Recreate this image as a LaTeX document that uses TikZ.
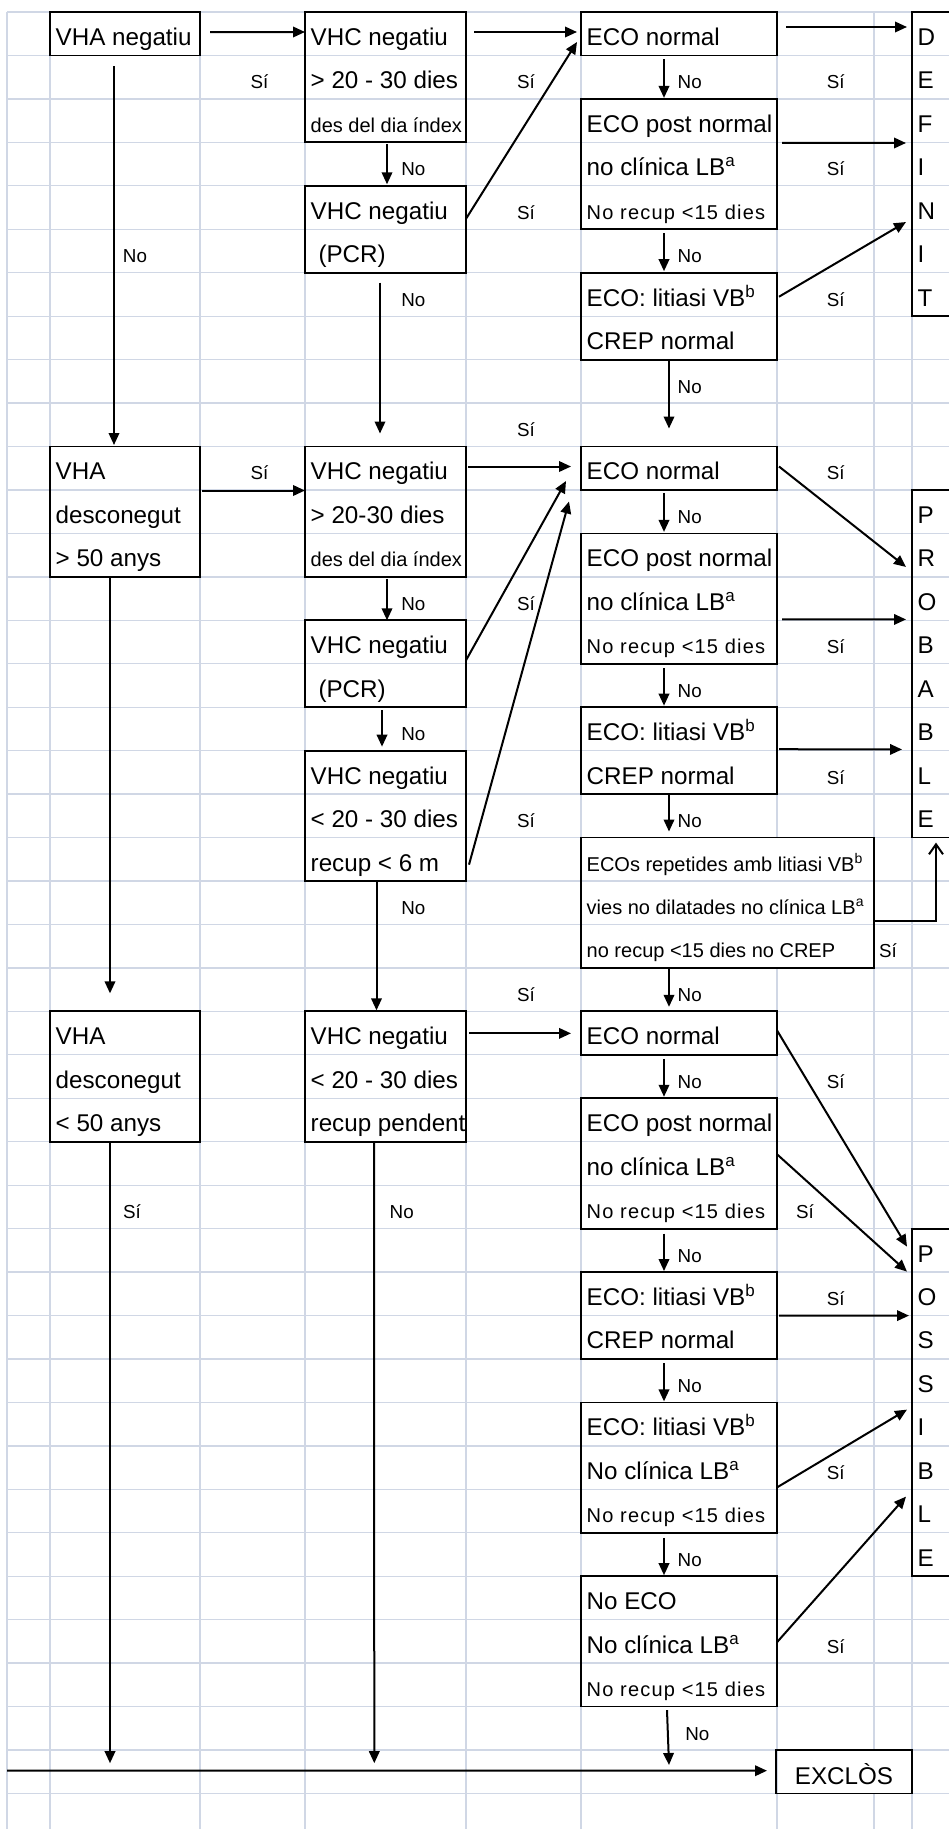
\documentclass[tikz,border=0pt]{standalone}
\usepackage{fontspec}
\setmainfont{Liberation Sans}
\newfontfamily\spacedfont[LetterSpace=6]{Liberation Sans}
\usetikzlibrary{arrows.meta,calc}
\definecolor{gridc}{HTML}{D0D7E5}
\newcommand\fontM{\fontsize{24.2}{28}\selectfont}
\newcommand\fontS{\fontsize{20}{24}\selectfont}
\newcommand\fontW{\spacedfont\fontsize{20}{24}\selectfont}
\newcommand\fontL{\fontsize{18.8}{22}\selectfont}
\tikzset{
  x=1pt, y=-1pt,
  gridline/.style={draw=gridc, line width=1.3pt},
  box/.style={draw=black, line width=1.8pt, inner sep=0pt, outer sep=0pt},
  arr/.style={line width=2pt, -{Triangle[length=12pt,width=10.5pt]}},
  openarr/.style={line width=2pt, -{Straight Barb[length=10pt,width=14pt]}},
  txt/.style={anchor=base west, inner sep=0pt, font=\fontM},
  lbl/.style={anchor=base, inner sep=0pt, font=\fontL}
}
\newcommand\cellbox[5]{\node[box, anchor=north west, minimum width={#3-#2}, minimum height={43.45*(#5-#4)}] (#1) at (#2,{12+43.45*(#4)}) {};}
\newcommand\txtA[4]{\node[txt] (#1) at (#2,{12+43.45*(#3+1)-10}) {#4};}
\newcommand\txtS[4]{\node[txt, font=\fontS] (#1) at (#2,{12+43.45*(#3+1)-10}) {#4};}
\newcommand\txtW[4]{\node[txt, font=\fontW] (#1) at (#2,{12+43.45*(#3+1)-10}) {#4};}
\newcommand\labl[4]{\node[lbl] (#1) at (#2,{12+43.45*(#3+1)-10}) {#4};}
\begin{document}
\begin{tikzpicture}
\useasboundingbox (0,0) rectangle (949,1829);
\fill[white] (0,0) rectangle (949,1829);
\clip (0,0) rectangle (949,1829);
% grid
\foreach \k in {0,...,41} \draw[gridline] (7,{12+43.45*\k}) -- (949,{12+43.45*\k});
\foreach \xx in {7,50,200,305,466,581,912} \draw[gridline] (\xx,12) -- (\xx,1829);
\draw[gridline] (777,12) -- (777,{12+43.45*19}) (777,{12+43.45*22}) -- (777,1829);
\draw[gridline] (874,12) -- (874,{12+43.45*40}) (874,{12+43.45*41}) -- (874,1829);
% boxes
\cellbox{vhaA}{50}{200}{0}{1}
\cellbox{vhcA}{305}{466}{0}{3}
\cellbox{vhcB}{305}{466}{4}{6}
\cellbox{ecoA}{581}{777}{0}{1}
\cellbox{ecopA}{581}{777}{2}{5}
\cellbox{ecolA}{581}{777}{6}{8}
\cellbox{def}{912}{1000}{0}{7}
\cellbox{vhaB}{50}{200}{10}{13}
\cellbox{vhcC}{305}{466}{10}{13}
\cellbox{vhcD}{305}{466}{14}{16}
\cellbox{vhcE}{305}{466}{17}{20}
\cellbox{ecoB}{581}{777}{10}{11}
\cellbox{ecopB}{581}{777}{12}{15}
\cellbox{ecolB}{581}{777}{16}{18}
\cellbox{ecos}{581}{874}{19}{22}
\cellbox{prob}{912}{1000}{11}{19}
\cellbox{vhaC}{50}{200}{23}{26}
\cellbox{vhcF}{305}{466}{23}{26}
\cellbox{ecoC}{581}{777}{23}{24}
\cellbox{ecopC}{581}{777}{25}{28}
\cellbox{ecolC}{581}{777}{29}{31}
\cellbox{ecolD}{581}{777}{32}{35}
\cellbox{noeco}{581}{777}{36}{39}
\cellbox{poss}{912}{1000}{28}{36}
\cellbox{excl}{776}{912}{40}{41}
% texts block 1
\txtA{t1}{55.5}{0}{VHA negatiu}
\txtA{t2}{310.5}{0}{VHC negatiu}
\txtA{t3}{310.5}{1}{> 20 - 30 dies}
\txtS{t4}{310.5}{2}{des del dia índex}
\txtA{t5}{310.5}{4}{VHC negatiu}
\txtA{t6}{318.3}{5}{(PCR)}
\txtA{t7}{586.5}{0}{ECO normal}
\txtA{t8}{586.5}{2}{ECO post normal}
\txtA{t9}{586.5}{3}{no clínica LB\textsuperscript{a}}
\txtW{t10}{586.5}{4}{No recup <15 dies}
\txtA{t11}{586.5}{6}{ECO: litiasi VB\textsuperscript{b}}
\txtA{t12}{586.5}{7}{CREP normal}
% block 2
\txtA{t13}{55.5}{10}{VHA}
\txtA{t14}{55.5}{11}{desconegut}
\txtA{t15}{55.5}{12}{> 50 anys}
\txtA{t16}{310.5}{10}{VHC negatiu}
\txtA{t17}{310.5}{11}{> 20-30 dies}
\txtS{t18}{310.5}{12}{des del dia índex}
\txtA{t19}{310.5}{14}{VHC negatiu}
\txtA{t20}{318.3}{15}{(PCR)}
\txtA{t21}{310.5}{17}{VHC negatiu}
\txtA{t22}{310.5}{18}{< 20 - 30 dies}
\txtA{t23}{310.5}{19}{recup < 6 m}
\txtA{t24}{586.5}{10}{ECO normal}
\txtA{t25}{586.5}{12}{ECO post normal}
\txtA{t26}{586.5}{13}{no clínica LB\textsuperscript{a}}
\txtW{t27}{586.5}{14}{No recup <15 dies}
\txtA{t28}{586.5}{16}{ECO: litiasi VB\textsuperscript{b}}
\txtA{t29}{586.5}{17}{CREP normal}
\txtS{t30}{586.5}{19}{ECOs repetides amb litiasi VB\textsuperscript{b}}
\txtS{t31}{586.5}{20}{vies no dilatades no clínica LB\textsuperscript{a}}
\txtS{t32}{586.5}{21}{no recup <15 dies no CREP}
% block 3
\txtA{t33}{55.5}{23}{VHA}
\txtA{t34}{55.5}{24}{desconegut}
\txtA{t35}{55.5}{25}{< 50 anys}
\txtA{t36}{310.5}{23}{VHC negatiu}
\txtA{t37}{310.5}{24}{< 20 - 30 dies}
\txtA{t38}{310.5}{25}{recup pendent}
\txtA{t39}{586.5}{23}{ECO normal}
\txtA{t40}{586.5}{25}{ECO post normal}
\txtA{t41}{586.5}{26}{no clínica LB\textsuperscript{a}}
\txtW{t42}{586.5}{27}{No recup <15 dies}
\txtA{t43}{586.5}{29}{ECO: litiasi VB\textsuperscript{b}}
\txtA{t44}{586.5}{30}{CREP normal}
\txtA{t45}{586.5}{32}{ECO: litiasi VB\textsuperscript{b}}
\txtA{t46}{586.5}{33}{No clínica LB\textsuperscript{a}}
\txtW{t47}{586.5}{34}{No recup <15 dies}
\txtA{t48}{586.5}{36}{No ECO}
\txtA{t49}{586.5}{37}{No clínica LB\textsuperscript{a}}
\txtW{t50}{586.5}{38}{No recup <15 dies}
\node[lbl, font=\fontM] (t51) at (844,{12+43.45*41-9}) {EXCLÒS};
% letter columns
\foreach \L [count=\i from 0] in {D,E,F,I,N,I,T}
  \node[txt] (df\i) at (917.3,{12+43.45*(\i+1)-10}) {\L};
\foreach \L [count=\i from 11] in {P,R,O,B,A,B,L,E}
  \node[txt] (pb\i) at (917.3,{12+43.45*(\i+1)-10}) {\L};
\foreach \L [count=\i from 28] in {P,O,S,S,I,B,L,E}
  \node[txt] (ps\i) at (917.3,{12+43.45*(\i+1)-10}) {\L};
% labels block 1
\labl{s1}{259.5}{1}{Sí}
\labl{s2}{526}{1}{Sí}
\labl{s3}{835.7}{1}{Sí}
\labl{s4}{835.7}{3}{Sí}
\labl{s5}{526}{4}{Sí}
\labl{s6}{835.7}{6}{Sí}
\labl{n1}{689.7}{1}{No}
\labl{n2}{413.3}{3}{No}
\labl{n3}{135}{5}{No}
\labl{n4}{689.7}{5}{No}
\labl{n5}{413.3}{6}{No}
\labl{n6}{689.7}{8}{No}
% labels block 2
\labl{s7}{526}{9}{Sí}
\labl{s8}{259.5}{10}{Sí}
\labl{s9}{835.7}{10}{Sí}
\labl{n7}{689.7}{11}{No}
\labl{s10}{526}{13}{Sí}
\labl{n8}{413.3}{13}{No}
\labl{s11}{835.7}{14}{Sí}
\labl{n9}{689.7}{15}{No}
\labl{n10}{413.3}{16}{No}
\labl{s12}{835.7}{17}{Sí}
\labl{s13}{526}{18}{Sí}
\labl{n11}{689.7}{18}{No}
\labl{n12}{413.3}{20}{No}
\labl{s14}{888}{21}{Sí}
\labl{s15}{526}{22}{Sí}
\labl{n13}{689.7}{22}{No}
% labels block 3
\labl{n14}{689.7}{24}{No}
\labl{s16}{835.7}{24}{Sí}
\labl{s17}{805}{27}{Sí}
\labl{s18}{132}{27}{Sí}
\labl{n15}{401.7}{27}{No}
\labl{n16}{689.7}{28}{No}
\labl{s19}{835.7}{29}{Sí}
\labl{n17}{689.7}{31}{No}
\labl{s20}{835.7}{33}{Sí}
\labl{n18}{689.7}{35}{No}
\labl{s21}{835.7}{37}{Sí}
\labl{n19}{697.3}{39}{No}
% arrows block 1
\draw[arr] ($(vhaA.east)+(10,-1.7)$) -- ($(vhcA.north west)+(0,20)$);
\draw[arr] ($(vhcA.north east)+(8,20)$) -- ($(ecoA.north west)+(-4,20)$);
\draw[arr] ($(vhcB.north east)+(0,33)$) -- ($(ecoA.north west)+(-4,30)$);
\draw[arr] ($(ecoA.north east)+(9,15)$) -- ($(def.north west)+(-5,15)$);
\draw[arr] ($(ecoA.south west)+(83,4)$) -- ($(ecopA.north west)+(83,-1)$);
\draw[arr] ($(ecopA.north east)+(5,44)$) -- ($(def.north west)+(-6,131)$);
\draw[arr] ($(ecopA.south west)+(83,4)$) -- ($(ecolA.north west)+(83,-1.5)$);
\draw[arr] ($(ecolA.north east)+(2,24)$) -- ($(def.north west)+(-6,210)$);
\draw[arr] ($(vhcA.south west)+(82,2)$) -- ($(vhcB.north west)+(82,-1.5)$);
\draw[arr] ($(vhcB.south west)+(75,10)$) -- ($(vhcC.north west)+(75,-13)$);
\draw[arr] ($(vhaA.south west)+(64,11)$) -- ($(vhaB.north west)+(64,-1.5)$);
\draw[arr] ($(ecolA.south west)+(88,0)$) -- ($(ecoB.north west)+(88,-18)$);
% arrows block 2
\draw[arr] ($(vhaB.north east)+(2,44)$) -- ($(vhcC.north west)+(0,44)$);
\draw[arr] ($(vhcC.north east)+(2,20)$) -- ($(ecoB.north west)+(-10,20)$);
\draw[arr] ($(vhcD.north east)+(0,40)$) -- ($(ecoB.north west)+(-15,34.5)$);
\draw[arr] ($(vhcE.north east)+(3,114)$) -- ($(ecoB.north west)+(-12,55)$);
\draw[arr] ($(ecoB.north east)+(2,20)$) -- ($(prob.north west)+(-6,77)$);
\draw[arr] ($(ecoB.south west)+(83,3)$) -- ($(ecopB.north west)+(83,-1.5)$);
\draw[arr] ($(ecopB.north east)+(5,86)$) -- ($(prob.north west)+(-6,129.5)$);
\draw[arr] ($(ecopB.south west)+(83,4.5)$) -- ($(ecolB.north west)+(83,-1.5)$);
\draw[arr] ($(ecolB.north east)+(2,42)$) -- ($(prob.north west)+(-10,259.5)$);
\draw[arr] ($(ecolB.south west)+(88,0)$) -- ($(ecos.north west)+(88,-6)$);
\draw[openarr] ($(ecos.north east)+(0,83.5)$) -| ($(prob.south west)+(24,5)$);
\draw[arr] ($(vhcC.south west)+(82,2)$) -- ($(vhcD.north west)+(82,0)$);
\draw[arr] ($(vhcD.south west)+(77,3)$) -- ($(vhcE.north west)+(77,-4)$);
\draw[arr] ($(vhcE.south west)+(71.5,0)$) -- ($(vhcF.north west)+(71.5,-1)$);
\draw[arr] ($(vhaB.south west)+(60,0)$) -- ($(vhaC.north west)+(60,-18)$);
\draw[arr] ($(ecos.south west)+(88,0)$) -- ($(ecoC.north west)+(88,-4.5)$);
% arrows block 3
\coordinate (lft) at (7,1770.7);
\draw[arr] ($(vhcF.north east)+(3,22)$) -- ($(ecoC.north west)+(-10,22)$);
\draw[arr] ($(ecoC.north east)+(0,19)$) -- ($(poss.north west)+(-5,18)$);
\draw[arr] ($(ecopC.north east)+(0,56)$) -- ($(poss.north west)+(-5,43)$);
\draw[arr] ($(ecoC.south west)+(83,4)$) -- ($(ecopC.north west)+(83,-1.5)$);
\draw[arr] ($(ecopC.south west)+(83,5)$) -- ($(ecolC.north west)+(83,-1)$);
\draw[arr] ($(ecolC.north east)+(2,43.5)$) -- ($(poss.north west)+(-3,87)$);
\draw[arr] ($(ecolC.south west)+(83,4.5)$) -- ($(ecolD.north west)+(83,-1)$);
\draw[arr] ($(ecolD.north east)+(0,85)$) -- ($(poss.north west)+(-5,181)$);
\draw[arr] ($(ecolD.south west)+(83,5)$) -- ($(noeco.north west)+(83,-1)$);
\draw[arr] ($(noeco.north east)+(0,66)$) -- ($(poss.north west)+(-6,268)$);
\draw[arr] ($(noeco.south west)+(86,3.5)$) -- ($(excl.north west)+(-107,15)$);
\draw[arr] (lft) -- ($(excl.north west)+(-9,20.7)$);
\draw[arr] ($(vhaC.south west)+(60,0)$) -- ($(lft)+(103,-7.5)$);
\draw[arr] ($(vhcF.south west)+(69,0)$) -- ($(lft)+(367.3,-7.5)$);
\end{tikzpicture}
\end{document}
